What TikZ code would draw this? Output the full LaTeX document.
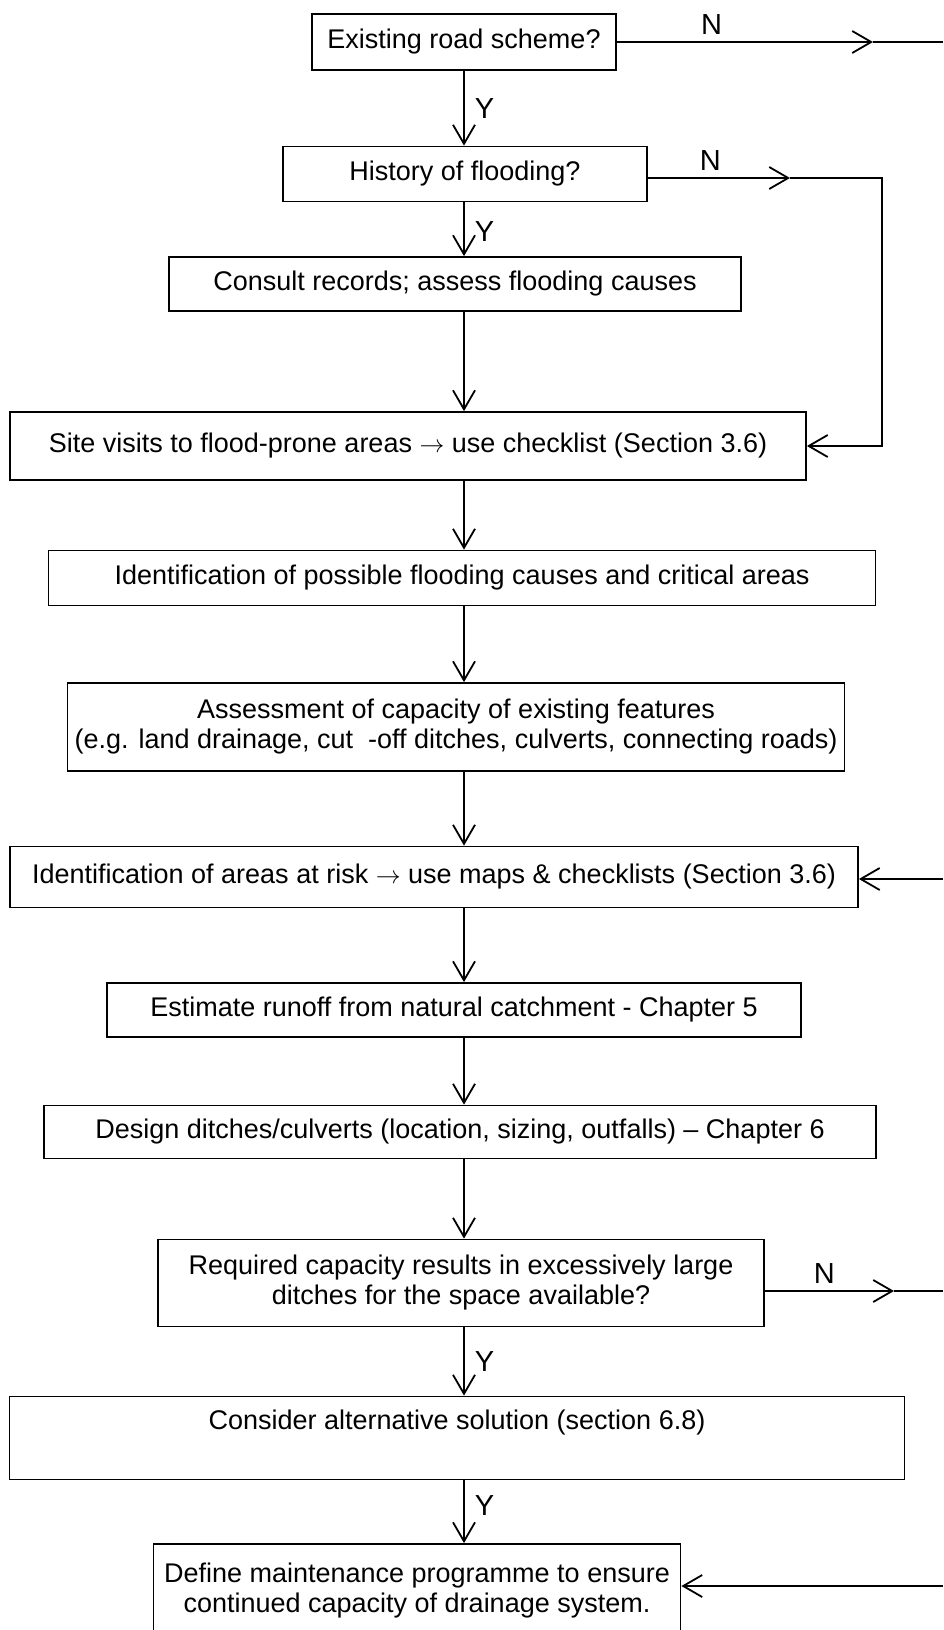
\documentclass[tikz,border=0pt]{standalone}
\usepackage{fontspec}
\setmainfont{Liberation Sans}
\usetikzlibrary{arrows.meta}

\tikzset{
  stepbox/.style={draw, line width=1.8pt, align=center, inner sep=2pt},
  flow/.style={line width=1.8pt, -{Straight Barb[length=19pt,width=22pt]}},
  wire/.style={line width=1.8pt},
  yn/.style={inner sep=10pt, font=\fontsize{29}{30}\selectfont},
}

\begin{document}
\begin{tikzpicture}[x=1pt,y=-1pt,font=\fontsize{27}{30}\selectfont]
  \useasboundingbox (0,0) rectangle (943,1630);
  \coordinate (spine) at (464,0);

  % boxes, top to bottom
  \node [stepbox, minimum width=304, minimum height=56] (exist) at (464,42) {Existing road scheme?};
  \node [stepbox, minimum width=364, minimum height=55] (hist) at (465,174) {History of flooding?};
  \node [stepbox, minimum width=572, minimum height=54] (records) at (455,284) {Consult records; assess flooding causes};
  \node [stepbox, minimum width=796, minimum height=68] (visits) at (408,446) {Site visits to flood-prone areas $\rightarrow$ use checklist (Section 3.6)};
  \node [stepbox, minimum width=827, minimum height=55] (causes) at (462,578) {Identification of possible flooding causes and critical areas};
  \node [stepbox, minimum width=777, minimum height=88] (capacity) at (456,727) {Assessment of capacity of existing features\\(e.g. land drainage, cut\ \ -off ditches, culverts, connecting roads)};
  \node [stepbox, minimum width=848, minimum height=61] (risk) at (434,877) {Identification of areas at risk $\rightarrow$ use maps \& checklists (Section 3.6)};
  \node [stepbox, minimum width=694, minimum height=54] (runoff) at (454,1010) {Estimate runoff from natural catchment - Chapter 5};
  \node [stepbox, minimum width=832, minimum height=53] (design) at (460,1132) {Design ditches/culverts (location, sizing, outfalls) – Chapter 6};
  \node [stepbox, minimum width=606, minimum height=87] (large) at (461,1283) {Required capacity results in excessively large\\ditches for the space available?};
  \node [stepbox, minimum width=895, minimum height=83] (alt) at (457,1438) {Consider alternative solution (section 6.8)\\[6pt]\mbox{}};
  \node [stepbox, minimum width=527, minimum height=92] (maint) at (417,1590) {Define maintenance programme to ensure\\continued capacity of drainage system.};

  % main line down the middle
  \draw [flow] (exist.south -| spine) -- (hist.north -| spine) node [midway, right, yn] {Y};
  \draw [flow] (hist.south -| spine) -- (records.north -| spine) node [pos=0.55, right, yn] {Y};
  \draw [flow] (records.south -| spine) -- (visits.north -| spine);
  \draw [flow] (visits.south -| spine) -- (causes.north -| spine);
  \draw [flow] (causes.south -| spine) -- (capacity.north -| spine);
  \draw [flow] (capacity.south -| spine) -- (risk.north -| spine);
  \draw [flow] (risk.south -| spine) -- (runoff.north -| spine);
  \draw [flow] (runoff.south -| spine) -- (design.north -| spine);
  \draw [flow] (design.south -| spine) -- (large.north -| spine);
  \draw [flow] (large.south -| spine) -- (alt.north -| spine) node [midway, right, yn] {Y};
  \draw [flow] (alt.south -| spine) -- (maint.north -| spine) node [pos=0.4, right, yn] {Y};

  % the N branches on the right
  \coordinate (tipA) at (873,0);
  \coordinate (outB) at (790,178);
  \coordinate (loopB) at (882,446);
  \coordinate (edgeC) at (943,879);
  \coordinate (outD) at (894,1291);
  \coordinate (edge) at (943,0);
  \coordinate (edgeE) at (943,1586);

  \draw [flow] (exist.east) -- (exist.east -| tipA) node [pos=0.37, above, yn, inner sep=7pt] {N};
  \draw [wire] (exist.east -| tipA) -- (exist.east -| edge);
  \draw [flow] (hist.east |- outB) -- (outB) node [pos=0.44, above, yn, inner sep=7pt] {N};
  \draw [flow] (outB) -- (outB -| loopB) -- (loopB) -- (visits.east |- loopB);
  \draw [flow] (edgeC) -- (risk.east |- edgeC);
  \draw [flow] (large.east |- outD) -- (outD) node [pos=0.46, above, yn, inner sep=7pt] {N};
  \draw [wire] (outD) -- (outD -| edge);
  \draw [flow] (edgeE) -- (maint.east |- edgeE);
\end{tikzpicture}
\end{document}
